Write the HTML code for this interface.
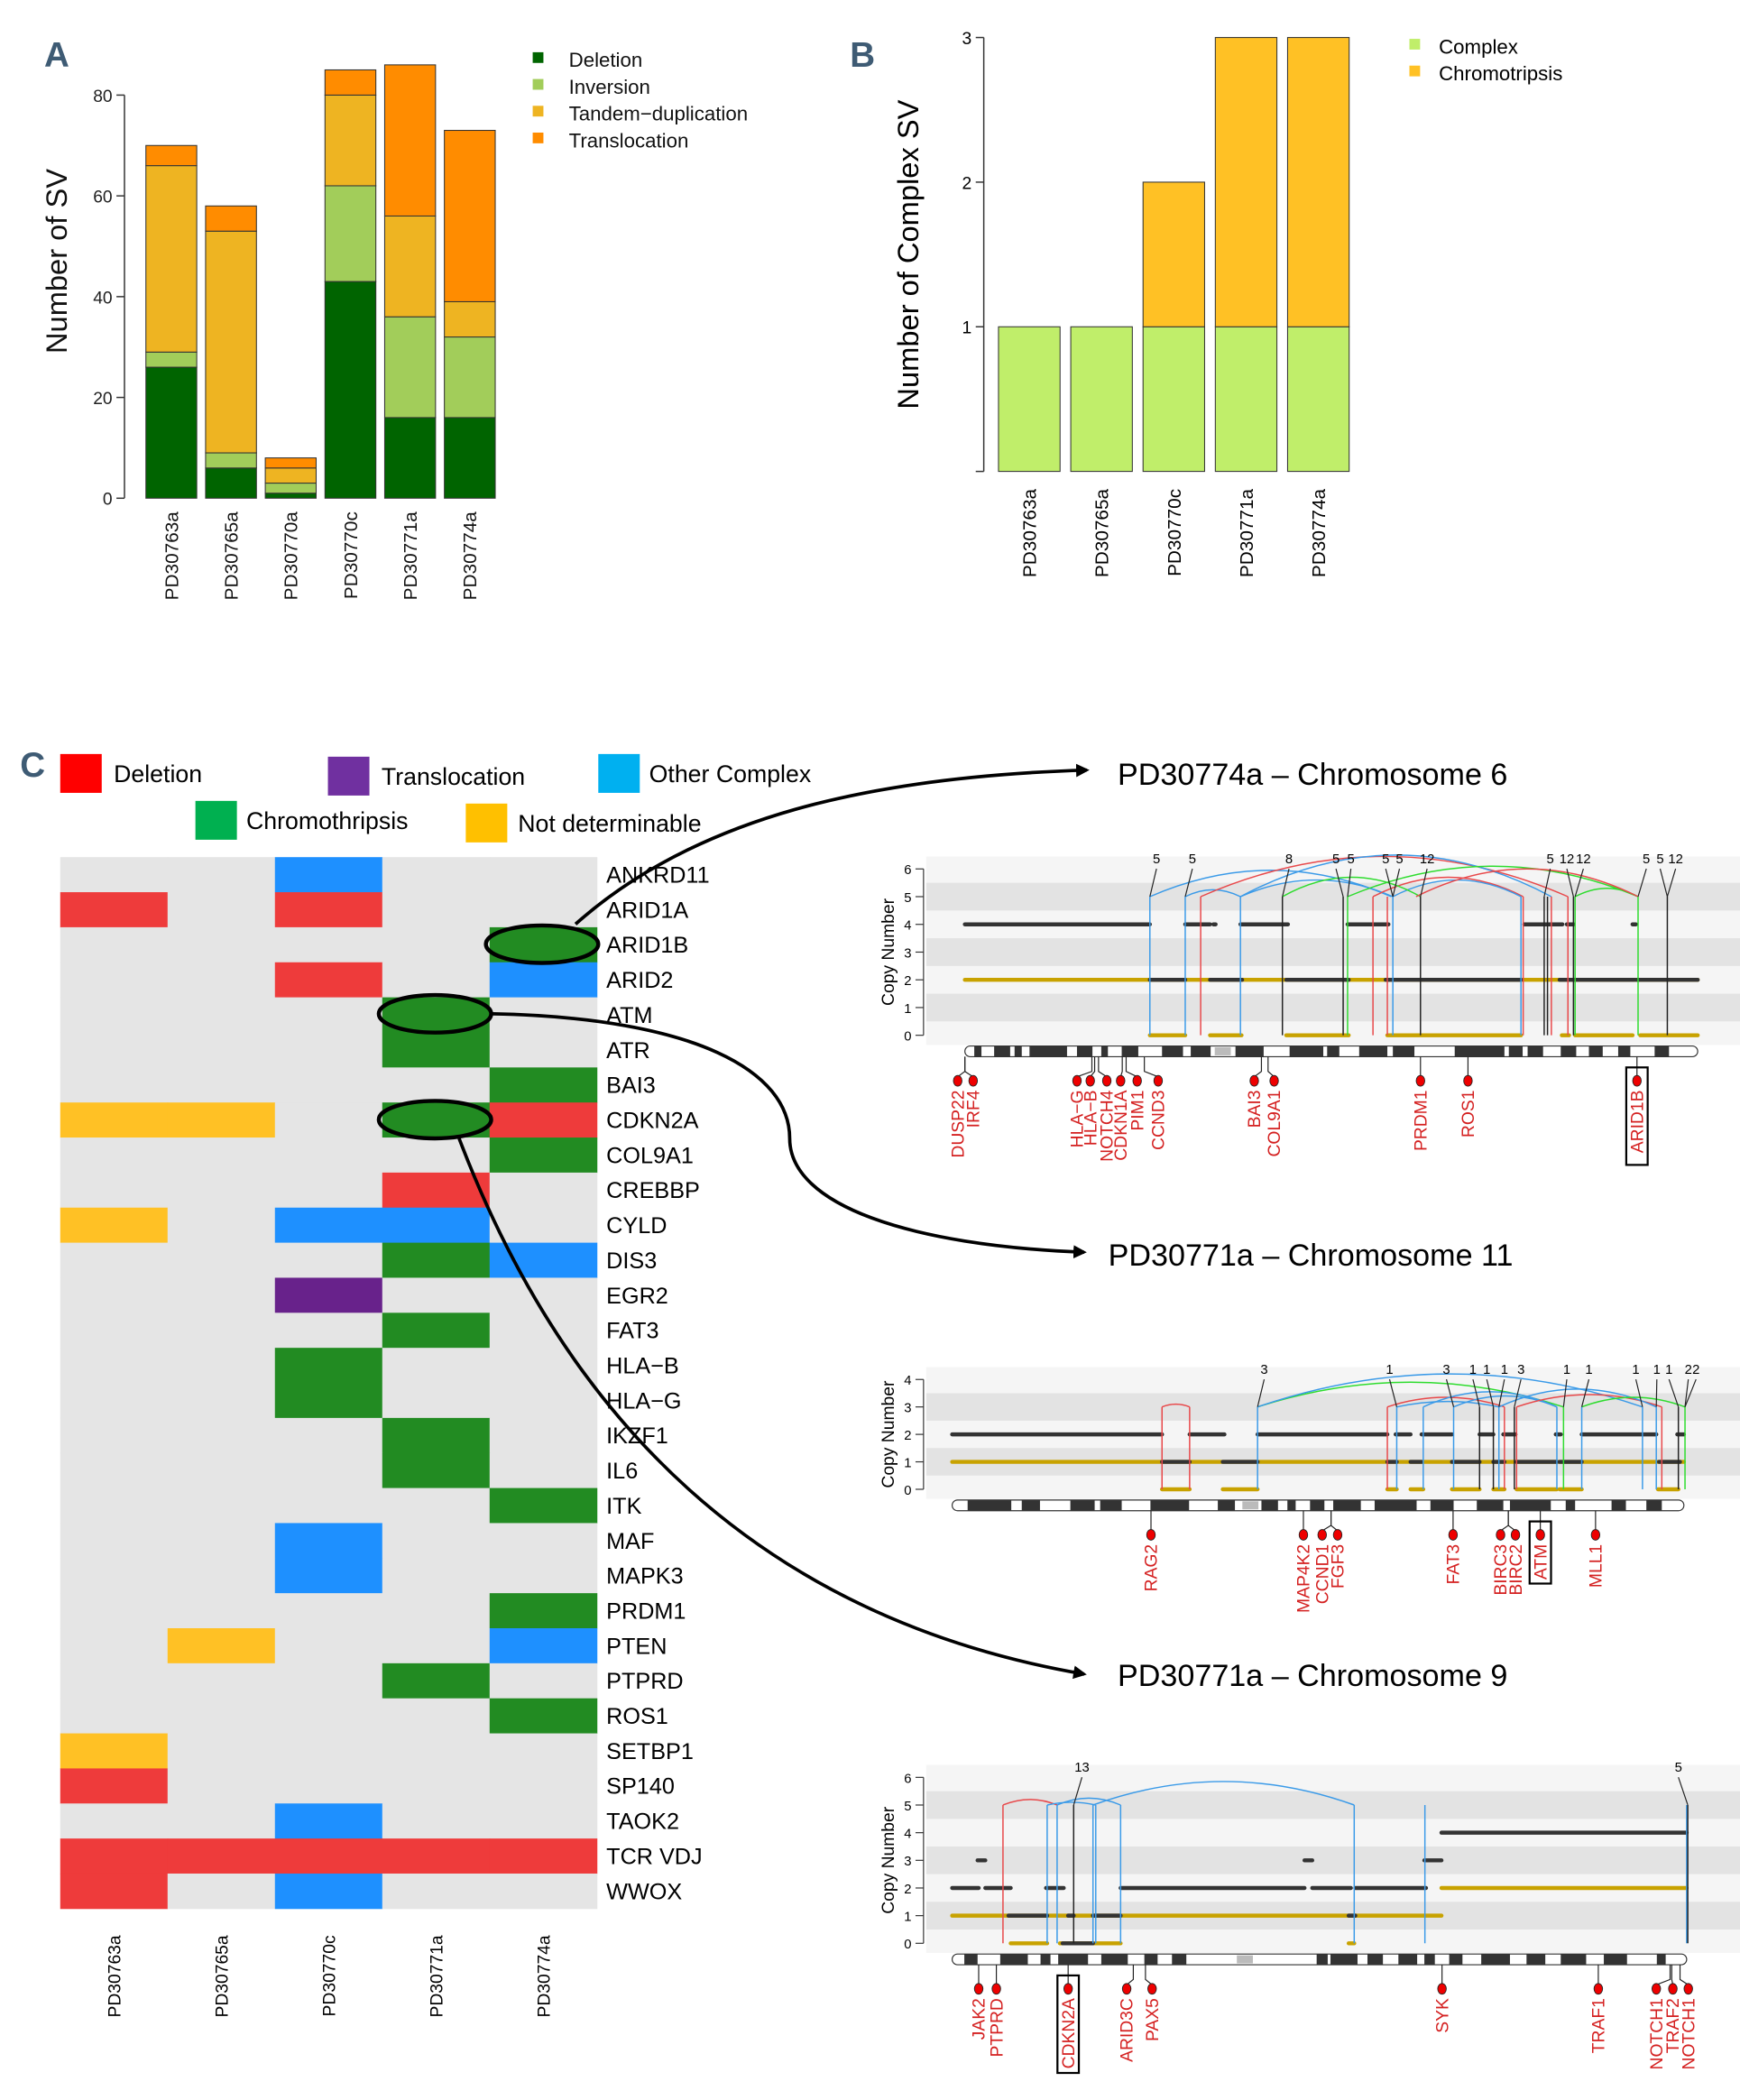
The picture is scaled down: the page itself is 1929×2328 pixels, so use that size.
<!DOCTYPE html>
<html><head><meta charset="utf-8"><style>
html,body{margin:0;padding:0;background:#fff}
svg{display:block}
text{font-family:"Liberation Sans",sans-serif}
</style></head><body>
<svg id="fig" xmlns="http://www.w3.org/2000/svg" width="1929" height="2328" viewBox="0 0 1300 1568" preserveAspectRatio="none">
<g id="root"></g>
</svg>
<script>
// ---------- Panel A data ----------
const samplesA = ["PD30763a","PD30765a","PD30770a","PD30770c","PD30771a","PD30774a"];
const deletionA = [26,6,1,43,16,16];
const inversionA = [3,3,2,19,20,16];
const tandemA = [37,44,3,18,20,7];
const translocA = [4,5,2,5,30,34];
const ticksA = [0,20,40,60,80];
// ---------- Panel B data ----------
const samplesB = ["PD30763a","PD30765a","PD30770c","PD30771a","PD30774a"];
const complexB = [1,1,1,1,1];
const chromoB = [0,0,1,2,2];
const ticksB = [1,2,3];
// ---------- Panel C heatmap data ----------
const genesC = ["ANKRD11","ARID1A","ARID1B","ARID2","ATM","ATR","BAI3","CDKN2A","COL9A1","CREBBP","CYLD","DIS3","EGR2","FAT3","HLA\u2212B","HLA\u2212G","IKZF1","IL6","ITK","MAF","MAPK3","PRDM1","PTEN","PTPRD","ROS1","SETBP1","SP140","TAOK2","TCR VDJ","WWOX"];
const samplesC = ["PD30763a","PD30765a","PD30770c","PD30771a","PD30774a"];
// codes: 0 none, D deletion, T translocation, O other complex, C chromothripsis, N not determinable
const matrixC = [
"..O..","D.D..","....C","..D.O","...C.","...C.","....C","NN.CD","....C","...D.",
"N.OO.","...CO","..T..","...C.","..C..","..C..","...C.","...C.","....C","..O..",
"..O..","....C",".N..O","...C.","....C","N....","D....","..O..","DDDDD","D.O.."];
// ---------- Chromosome plots (positions in Mb-like units along chromosome) ----------
const chr6Black4 = [[213,548],[612,657],[663,667],[712,798],[906,980],[1226,1295],[1303,1315],[1422,1428]];
const chr6Black2 = [[548,612],[657,715],[795,908],[975,1220],[1290,1425],[1428,1540]];
const chr6Gold2 = [[213,1540]];
const chr6Gold0 = [[548,612],[657,714],[795,908],[978,1220],[1294,1307],[1318,1422],[1436,1540]];
const chr6Vert = [[548,"b"],[612,"b"],[640,"r"],[712,"b"],[788,"k"],[898,"k"],[906,"g"],[952,"r"],[978,"r"],[988,"b"],[1038,"k"],[1220,"b"],[1224,"r"],[1262,"k"],[1268,"k"],[1275,"r"],[1305,"r"],[1315,"k"],[1318,"g"],[1432,"g"],[1485,"k"]];
const chr6Arcs = [[548,985,5.95,"b"],[612,712,5.25,"b"],[640,1305,6.45,"r"],[712,1275,6.5,"b"],[712,988,5.6,"b"],[906,1432,6.1,"g"],[952,1224,5.7,"r"],[988,1220,5.6,"b"],[788,1038,5.7,"g"],[1318,1432,5.3,"g"],[1030,1432,6.0,"r"]];
const chr6Tags = [["5",560,548],["5",625,612],["8",800,788],["5",885,898],["5",912,906],["5",975,988],["5",1000,988],["12",1050,1038],["5",1273,1262],["12",1303,1315],["12",1333,1318],["5",1447,1432],["5",1472,1485],["12",1500,1485]];
const chr6Genes = [["DUSP22",200,213],["IRF4",228,213],["HLA\u2212G",416,443],["HLA\u2212B",440,448],["NOTCH4",470,455],["CDKN1A",495,498],["PIM1",525,505],["CCND3",563,538],["BAI3",737,750],["COL9A1",773,762],["PRDM1",1038,1038],["ROS1",1124,1124],["ARID1B",1430,1430]];
const chr6Bands = [[230,243],[266,295],[303,316],[330,398],[416,444],[460,472],[497,527],[570,608],[622,658],[703,754],[801,862],[869,891],[927,978],[988,1027],[1100,1190],[1198,1223],[1232,1260],[1292,1320],[1343,1368],[1396,1418],[1462,1488]];
const chr11Black2 = [[190,570],[620,683],[743,978],[993,1020],[1040,1095],[1145,1170],[1188,1210],[1283,1292],[1330,1465],[1503,1515]];
const chr11Black1 = [[570,620],[680,743],[978,995],[1020,1040],[1095,1145],[1170,1190],[1212,1285],[1290,1330],[1470,1508]];
const chr11Gold1 = [[190,1515]];
const chr11Gold0 = [[570,620],[680,743],[978,995],[1020,1043],[1095,1145],[1170,1190],[1212,1285],[1290,1330],[1468,1505]];
const chr11Vert = [[570,"r",3],[620,"r",3],[743,"b",3],[978,"r",3],[995,"b",3],[1043,"b",3],[1098,"b",3],[1145,"k",3],[1170,"k",3],[1180,"b",3],[1190,"r",3],[1208,"k",3],[1212,"r",3],[1285,"b",3],[1297,"g",3],[1330,"b",3],[1440,"b",3],[1465,"b",3],[1475,"r",3],[1505,"k",3],[1517,"g",3]];
const chr11Arcs = [[570,620,3.1,"r"],[743,1297,3.9,"g"],[743,1440,4.2,"b"],[978,1190,3.35,"r"],[995,1180,3.2,"b"],[1043,1285,3.55,"b"],[1098,1285,3.4,"b"],[1212,1475,3.45,"r"],[1180,1465,3.65,"b"],[1330,1517,3.35,"g"]];
const chr11Tags = [["3",755,743],["1",982,995],["3",1085,1098],["1",1133,1145],["1",1158,1170],["1",1190,1180],["3",1220,1208],["1",1303,1297],["1",1343,1330],["1",1428,1440],["1",1466,1465],["1",1488,1505],["2",1523,1517],["2",1537,1517]];
const chr11Genes = [["RAG2",550,550],["MAP4K2",826,826],["CCND1",860,876],["FGF3",888,876],["FAT3",1097,1097],["BIRC3",1183,1197],["BIRC2",1210,1197],["ATM",1255,1255],["MLL1",1355,1355]];
const chr11Bands = [[218,297],[316,349],[404,448],[458,497],[549,619],[671,702],[750,780],[797,812],[838,864],[880,930],[955,1031],[1056,1098],[1140,1188],[1200,1274],[1301,1318],[1384,1410],[1447,1475]];
const chr9Black2 = [[190,238],[250,296],[360,392],[495,828],[842,912],[920,1048]];
const chr9Black3 = [[236,250],[828,842],[1045,1076]];
const chr9Black4 = [[1076,1520]];
const chr9Black1 = [[292,362],[400,410],[445,495],[908,920]];
const chr9Black0 = [[390,445]];
const chr9Gold1 = [[190,1076]];
const chr9Gold2 = [[1076,1520]];
const chr9Gold0 = [[296,362],[385,495],[908,918]];
const chr9Vert = [[282,"r",5],[362,"b",5],[380,"b",5],[410,"k",5],[445,"b",5],[450,"b",5],[495,"b",5],[918,"b",5],[1046,"b",5],[1520,"b",5],[1522,"k",5]];
const chr9Arcs = [[282,380,5.2,"r"],[362,450,5.1,"b"],[380,495,5.25,"b"],[445,918,5.85,"b"]];
const chr9Tags = [["13",425,410],["5",1505,1522]];
const chr9Genes = [["JAK2",238,238],["PTPRD",270,270],["CDKN2A",400,400],["ARID3C",506,518],["PAX5",552,540],["SYK",1077,1077],["TRAF1",1360,1360],["NOTCH1",1465,1490],["TRAF2",1495,1493],["NOTCH1",1523,1508]];
const chr9Bands = [[212,236],[277,327],[350,368],[382,436],[460,508],[538,562],[588,614],[850,870],[875,924],[942,970],[998,1032],[1045,1064],[1090,1114],[1148,1200],[1230,1264],[1292,1338],[1370,1412],[1466,1482]];

const NS = "http://www.w3.org/2000/svg";
const root = document.getElementById("root");
function el(tag, attrs, parent, txt){
  const e = document.createElementNS(NS, tag);
  for (const k in attrs) e.setAttribute(k, attrs[k]);
  if (txt !== undefined) e.textContent = txt;
  (parent || root).appendChild(e);
  return e;
}
function grp(name){ const g = el("g", {});   return g; }

// ---------- Panel letters ----------
[["A",33,50],["B",635,50],["C",15,580]].forEach(p=>{
  const t = el("text",{x:p[1],y:p[2],"font-size":26,"font-weight":"bold",fill:"#3e5b74",transform:`scale(1,1)`},null,p[0]);
  
  
});

// ---------- Panel A ----------
(function(){
  const g = grp("panel-a-stacked-bar-chart");
  const y0 = 372, per = (372-71)/80;
  const yA = v => y0 - v*per;
  const xA = i => 109 + i*44.6;
  const bw = 38;
  const ax = el("line",{x1:93,x2:93,y1:yA(0),y2:yA(80),stroke:"#333","stroke-width":1},g);
   
  ticksA.forEach(t=>{
    el("line",{x1:87,x2:93,y1:yA(t),y2:yA(t),stroke:"#333"},g);
    const tl = el("text",{x:84,y:yA(t)+5,"font-size":13,"text-anchor":"end",fill:"#222"},g,String(t));
     
  });
  const yt = el("text",{x:0,y:0,"font-size":22,"text-anchor":"middle",transform:`translate(50,195) rotate(-90)`,fill:"#111"},g,"Number of SV");
   
  const series = [[deletionA,"#006400","deletion"],[inversionA,"#a2cd5a","inversion"],[tandemA,"#eeb422","tandem-duplication"],[translocA,"#ff8c00","translocation"]];
  samplesA.forEach((s,i)=>{
    let acc = 0;
    series.forEach(sr=>{
      const v = sr[0][i];
      const r = el("rect",{x:xA(i),y:yA(acc+v),width:bw,height:v*per,fill:sr[1],stroke:"#333","stroke-width":0.7},g);
      
      
      acc += v;
    });
    const lbl = el("text",{x:0,y:0,"font-size":14,"text-anchor":"end",transform:`translate(${xA(i)+bw/2+5},382) rotate(-90)`,fill:"#111"},g,s);
     
  });
  const legendA = ["Deletion","Inversion","Tandem\u2212duplication","Translocation"];
  legendA.forEach((l,k)=>{
    el("rect",{x:398,y:39+k*20,width:8,height:8,fill:series[k][1]},g);
    const t = el("text",{x:425,y:50+k*20,"font-size":15,fill:"#111"},g,l);
     
  });
})();

// ---------- Panel B ----------
(function(){
  const g = grp("panel-b-stacked-bar-chart");
  const y0 = 352, per = 108;
  const yB = v => y0 - v*per;
  const xB = i => 746 + i*54;
  const bw = 46;
  const ax = el("line",{x1:735,x2:735,y1:yB(0),y2:yB(3),stroke:"#333"},g);
   
  el("line",{x1:729,x2:735,y1:yB(0),y2:yB(0),stroke:"#333"},g);
  ticksB.forEach(t=>{
    el("line",{x1:729,x2:735,y1:yB(t),y2:yB(t),stroke:"#333"},g);
    const tl = el("text",{x:726,y:yB(t)+5,"font-size":13,"text-anchor":"end"},g,String(t));
     
  });
  const yt = el("text",{x:0,y:0,"font-size":22,"text-anchor":"middle",transform:`translate(686,190) rotate(-90)`},g,"Number of Complex SV");
   
  samplesB.forEach((s,i)=>{
    const r1 = el("rect",{x:xB(i),y:yB(complexB[i]),width:bw,height:complexB[i]*per,fill:"#c0ee6a",stroke:"#333","stroke-width":0.7},g);
     
    if (chromoB[i]>0){
      const r2 = el("rect",{x:xB(i),y:yB(complexB[i]+chromoB[i]),width:bw,height:chromoB[i]*per,fill:"#ffc125",stroke:"#333","stroke-width":0.7},g);
       
    }
    const lbl = el("text",{x:0,y:0,"font-size":14,"text-anchor":"end",transform:`translate(${xB(i)+bw/2+5},365) rotate(-90)`},g,s);
     
  });
  [["Complex","#c0ee6a"],["Chromotripsis","#ffc125"]].forEach((l,k)=>{
    el("rect",{x:1053,y:29+k*20,width:8,height:8,fill:l[1]},g);
    const t = el("text",{x:1075,y:40+k*20,"font-size":15},g,l[0]);
     
  });
})();

// ---------- Panel C heatmap ----------
(function(){
  const g = grp("panel-c-heatmap");
  const colors = {".":"#e5e5e5","D":"#ee3b3b","T":"#68228b","O":"#1e90ff","C":"#228b22","N":"#ffc125"};
  const x0 = 45, cw = 80.2, y0 = 640, rh = 26.17;
  genesC.forEach((gn,r)=>{
    for (let c=0;c<samplesC.length;c++){
      const code = matrixC[r][c];
      const cell = el("rect",{x:x0+c*cw,y:y0+r*rh,width:cw+0.3,height:rh+0.3,fill:colors[code]},g);
      
      
    }
    const t = el("text",{x:453,y:y0+r*rh+rh/2+6,"font-size":17},g,gn);
     
  });
  samplesC.forEach((s,c)=>{
    const t = el("text",{x:0,y:0,"font-size":13,"text-anchor":"end",transform:`translate(${x0+c*cw+cw/2+5},1445) rotate(-90)`},g,s);
     
  });
  const leg = [["Deletion","#ff0000",45,563,85],["Translocation","#7030a0",245,565,285],["Other Complex","#00b0f0",447,563,485],["Chromothripsis","#00b050",146,598,184],["Not determinable","#ffc000",348,600,387]];
  leg.forEach(l=>{
    el("rect",{x:l[2],y:l[3],width:31,height:29,fill:l[1]},g);
    const t = el("text",{x:l[4],y:l[3]+21,"font-size":18},g,l[0]);
     
  });
  // highlight ellipses
  [[405,705,"arid1b"],[325,757,"atm"],[325,836,"cdkn2a"]].forEach(e=>{
    const ell = el("ellipse",{cx:e[0],cy:e[1],rx:42,ry:14,fill:"none",stroke:"#000","stroke-width":3},g);
     
  });
  // arrows
  el("defs",{},g).innerHTML = '<marker id="ah" markerWidth="10" markerHeight="10" refX="8" refY="5" orient="auto" markerUnits="userSpaceOnUse"><path d="M0,0 L10,5 L0,10 z" fill="#000"/></marker>';
  const arrows = [
    ["M430,690 C520,610 650,580 812,575","arrow-to-chr6"],
    ["M368,757 C520,760 590,800 590,850 C590,900 680,930 810,935","arrow-to-chr11"],
    ["M343,850 C400,1000 520,1200 810,1250","arrow-to-chr9"]];
  arrows.forEach(a=>{
    const p = el("path",{d:a[0],fill:"none",stroke:"#000","stroke-width":2.5,"marker-end":"url(#ah)"},g);
     
  });
  [["PD30774a \u2013 Chromosome 6",835,586],["PD30771a \u2013 Chromosome 11",828,945],["PD30771a \u2013 Chromosome 9",835,1259]].forEach(t=>{
    const tt = el("text",{x:t[1],y:t[2],"font-size":23},g,t[0]);
     
  });
})();

// ---------- chromosome plot drawing ----------
const col = {b:"#3a9ae8",r:"#e8484a",g:"#2edc2e",k:"#222"};
function X(d){ return 633 + d*0.4126; }
function chromPlot(name, y0, unit, maxCn, stripes, segs, vert, arcs, tags, genes, bands, ideoY, geneY, cenX){
  const g = grp(name);
  const Y = cn => y0 - cn*unit;
  el("rect",{x:692,y:Y(maxCn+0.45),width:608,height:(maxCn+0.8)*unit,fill:"#f5f5f5"},g);
  stripes.forEach(s=>el("rect",{x:692,y:Y(s+0.5),width:608,height:unit,fill:"#e3e3e3"},g));
  for (let t=0;t<=maxCn;t++){
    el("line",{x1:684,x2:690,y1:Y(t),y2:Y(t),stroke:"#333","stroke-width":0.8},g);
    el("text",{x:681,y:Y(t)+4,"font-size":10,"text-anchor":"end"},g,String(t));
  }
  el("line",{x1:690,x2:690,y1:Y(0),y2:Y(maxCn),stroke:"#333","stroke-width":0.8},g);
  const yt = el("text",{x:0,y:0,"font-size":13,"text-anchor":"middle",transform:`translate(668,${Y(maxCn/2)}) rotate(-90)`},g,"Copy Number");
   
  segs.forEach(s=>{
    s[0].forEach(r=>{
      const l = el("line",{x1:X(r[0]),x2:X(r[1]),y1:Y(s[1]),y2:Y(s[1]),stroke:s[2],"stroke-width":3,"stroke-linecap":"round"},g);
       
    });
  });
  arcs.forEach(a=>{
    const x1=X(a[0]),x2=X(a[1]),yb=Y(maxCn===4?3:5),yp=Y(a[2]);
    const c = el("path",{d:`M${x1},${yb} Q${(x1+x2)/2},${2*yp-yb} ${x2},${yb}`,fill:"none",stroke:col[a[3]],"stroke-width":1},g);
     
  });
  vert.forEach(v=>{
    const top = maxCn===4?3:5;
    const l = el("line",{x1:X(v[0]),x2:X(v[0]),y1:Y(0),y2:Y(top),stroke:col[v[1]],"stroke-width":1},g);
     
  });
  const tagCn = maxCn===4?4.2:6.2, top = maxCn===4?3:5;
  tags.forEach(t=>{
    el("line",{x1:X(t[1]),y1:Y(tagCn)+4,x2:X(t[2]),y2:Y(top),stroke:"#222","stroke-width":0.8},g);
    el("text",{x:X(t[1]),y:Y(tagCn),"font-size":10,"text-anchor":"middle"},g,t[0]);
  });
  // ideogram
  const ix1 = X(segs[0][0][0][0]) , ix2 = X(bands.end);
  const ideo = el("rect",{x:ix1,y:ideoY,width:ix2-ix1,height:8,rx:4,fill:"#fff",stroke:"#333","stroke-width":0.8},g);
   
  bands.list.forEach(b=>el("rect",{x:X(b[0]),y:ideoY,width:X(b[1])-X(b[0]),height:8,fill:"#333"},g));
  el("rect",{x:X(cenX)-6,y:ideoY+1,width:12,height:6,fill:"#bbb"},g);
  genes.forEach(gn=>{
    el("polyline",{points:`${X(gn[2])},${ideoY+8} ${X(gn[2])},${geneY-7} ${X(gn[1])},${geneY-3}`,fill:"none",stroke:"#222","stroke-width":0.8},g);
    const d = el("ellipse",{cx:X(gn[1]),cy:geneY,rx:3.2,ry:4,fill:"#ee0000",stroke:"#222","stroke-width":0.6},g);
     
    const t = el("text",{x:0,y:0,"font-size":13,"text-anchor":"end",fill:"#d42020",transform:`translate(${X(gn[1])+4.5},${geneY+7}) rotate(-90)`},g,gn[0]);
     
    if (gn[0]==="ARID1B"||gn[0]==="ATM"||gn[0]==="CDKN2A"){
      const len = gn[0].length*8.8+10;
      el("rect",{x:X(gn[1])-8,y:geneY-10,width:16,height:len+10,fill:"none",stroke:"#000","stroke-width":1.5},g);
    }
  });
}
chromPlot("chr6-copy-number-plot",773,20.7,6,[1,3,5],
  [[chr6Gold2,2,"#c8a200"],[chr6Gold0,0,"#c8a200"],[chr6Black4,4,"#333"],[chr6Black2,2,"#333"]],
  chr6Vert,chr6Arcs,chr6Tags,chr6Genes,{list:chr6Bands,end:1540},781,807,680);
chromPlot("chr11-copy-number-plot",1112,20.5,4,[1,3],
  [[chr11Gold1,1,"#c8a200"],[chr11Gold0,0,"#c8a200"],[chr11Black2,2,"#333"],[chr11Black1,1,"#333"]],
  chr11Vert,chr11Arcs,chr11Tags,chr11Genes,{list:chr11Bands,end:1515},1120,1146,730);
chromPlot("chr9-copy-number-plot",1451,20.65,6,[1,3,5],
  [[chr9Gold1,1,"#c8a200"],[chr9Gold2,2,"#c8a200"],[chr9Gold0,0,"#c8a200"],[chr9Black2,2,"#333"],[chr9Black3,3,"#333"],[chr9Black4,4,"#333"],[chr9Black1,1,"#333"],[chr9Black0,0,"#333"]],
  chr9Vert,chr9Arcs,chr9Tags,chr9Genes,{list:chr9Bands,end:1520},1459,1485,720);
</script>
</body></html>
